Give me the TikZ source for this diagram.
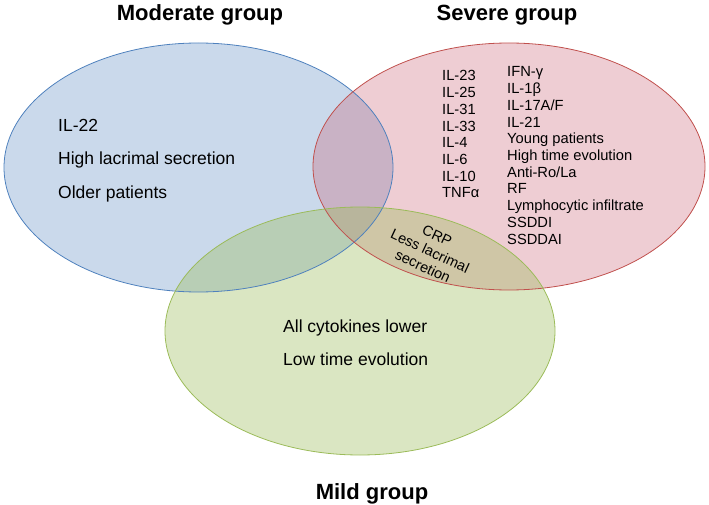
\documentclass[tikz,border=0pt]{standalone}
\usepackage{fontspec}
\setmainfont{Liberation Sans}
\usepackage{tikz}
\usepackage{xcolor}
\usetikzlibrary{positioning}
\definecolor{modblue}{RGB}{79,129,189}
\definecolor{sevred}{RGB}{192,80,77}
\definecolor{sevfill}{RGB}{200,90,110}
\definecolor{mildgreen}{RGB}{155,187,89}

\begin{document}
\begin{tikzpicture}[x=1pt,y=-1pt,
  grouplabel/.style={font=\fontsize{22}{26}\selectfont\bfseries, anchor=base},
  bigitem/.style={font=\fontsize{17.5}{20}\selectfont, anchor=base west, inner sep=0pt},
  smallitem/.style={font=\fontsize{14.7}{16.7}\selectfont, anchor=base west, inner sep=0pt}]
\useasboundingbox (0,0) rectangle (709,505);
% the three groups
\fill[modblue, fill opacity=0.3] (198.5,167.5) ellipse [x radius=194.5, y radius=124.5];
\fill[sevfill, fill opacity=0.3] (509,166.5) ellipse [x radius=196, y radius=123.5];
\fill[mildgreen, fill opacity=0.37] (360,331) ellipse [x radius=195, y radius=124];
\draw[modblue, line width=0.8pt] (198.5,167.5) ellipse [x radius=194.5, y radius=124.5];
\draw[sevred, line width=0.8pt] (509,166.5) ellipse [x radius=196, y radius=123.5];
\draw[mildgreen, line width=0.8pt] (360,331) ellipse [x radius=195, y radius=124];
% titles
\node[grouplabel] (moderate) at (200,21) {Moderate group};
\node[grouplabel] (severe) at (507,21) {Severe group};
\node[grouplabel] (mild) at (372,499) {Mild group};
% moderate only
\node[bigitem] (il22) at (58,132) {IL-22};
\node[bigitem] (highlac) at (58,165) {High lacrimal secretion};
\node[bigitem] (older) at (58,198) {Older patients};
% severe only, two columns
\foreach \t [count=\i] in {IL-23,IL-25,IL-31,IL-33,IL-4,IL-6,IL-10,TNFα}
  \node[smallitem] (sevl\i) at (442,{81+16.7*(\i-1)}) {\t};
\foreach \t [count=\i] in {IFN-γ,IL-1β,IL-17A/F,IL-21,Young patients,High time evolution,Anti-Ro/La,RF,Lymphocytic infiltrate,SSDDI,SSDDAI}
  \node[smallitem] (sevr\i) at (507,{77+16.7*(\i-1)}) {\t};
% severe and mild
\node[font=\fontsize{14.5}{17}\selectfont, align=center, rotate=-25] (crp) at (430,251) {CRP\\Less lacrimal\\secretion};
% mild only
\node[bigitem] (allcyt) at (283,332) {All cytokines lower};
\node[bigitem] (lowtime) at (283,365) {Low time evolution};
\end{tikzpicture}
\end{document}
